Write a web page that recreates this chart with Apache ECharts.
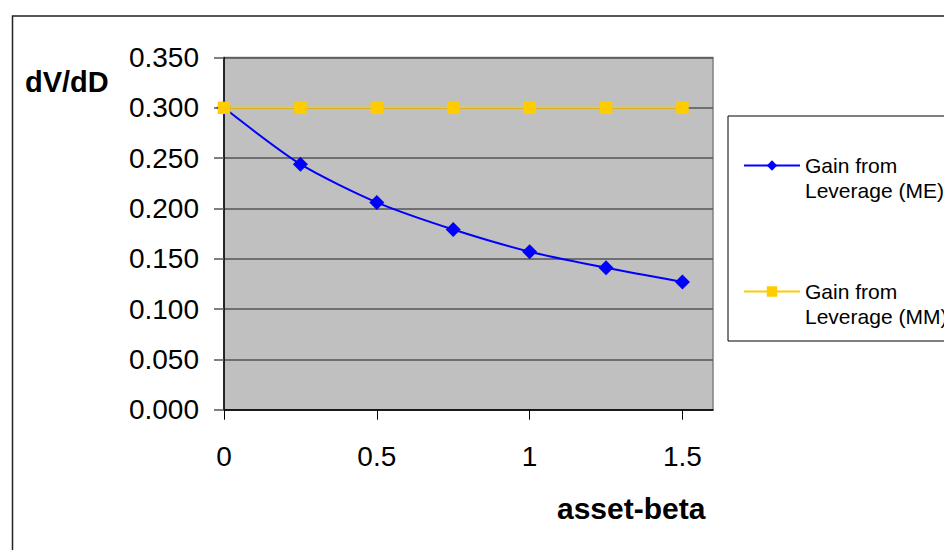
<!DOCTYPE html>
<html>
<head>
<meta charset="utf-8">
<script src="https://cdn.jsdelivr.net/npm/echarts@6/dist/echarts.min.js"></script>
<style>
html,body{margin:0;padding:0;background:#fff;}
#chart{width:944px;height:550px;}
</style>
</head>
<body>
<div id="chart"></div>
<script>
// Data
var assetBeta = [0, 0.25, 0.5, 0.75, 1, 1.25, 1.5];
var gainME = [0.300, 0.244, 0.206, 0.179, 0.157, 0.141, 0.127];
var gainMM = [0.300, 0.300, 0.300, 0.300, 0.300, 0.300, 0.300];
var seriesNames = ['Gain from\nLeverage (ME)', 'Gain from\nLeverage (MM)'];
var xTickValues = [0, 0.5, 1, 1.5];
var yAxisTitle = 'dV/dD';
var xAxisTitle = 'asset-beta';

var FONT = '"Liberation Sans", Arial, sans-serif';

function pairs(xs, ys) { return xs.map(function (x, i) { return [x, ys[i]]; }); }

var chart = echarts.init(document.getElementById('chart'), null, { renderer: 'svg' });
chart.setOption({
  backgroundColor: '#ffffff',
  animation: false,
  title: [
    { text: yAxisTitle, left: 25, top: 67, padding: 0,
      textStyle: { fontFamily: FONT, fontSize: 29, fontWeight: 'bold', color: '#000' } },
    { text: xAxisTitle, left: 557, top: 493, padding: 0,
      textStyle: { fontFamily: FONT, fontSize: 30, fontWeight: 'bold', color: '#000' } }
  ],
  graphic: [
    { type: 'rect', left: 10, top: 13.5, z: -10, silent: true,
      shape: { x: 0, y: 0, width: 1000, height: 600 },
      style: { fill: 'none', stroke: '#222', lineWidth: 1.5 } }
  ],
  grid: {
    left: 224, top: 57.5, right: 231, bottom: 140.3,
    show: true, backgroundColor: '#C0C0C0', borderColor: '#808080', borderWidth: 1.5
  },
  legend: {
    orient: 'vertical',
    left: 728, top: 116,
    padding: [12, 30, 12, 15],
    itemGap: 51,
    itemWidth: 56, itemHeight: 13,
    borderColor: '#000', borderWidth: 1,
    backgroundColor: '#fff',
    data: seriesNames,
    formatter: function (name) { return '\n' + name; },
    textStyle: { fontFamily: FONT, fontSize: 21, color: '#000', lineHeight: 25 }
  },
  xAxis: {
    type: 'value', min: 0, max: 1.6, interval: 0.5,
    axisLine: { show: true, onZero: false, lineStyle: { color: '#000', width: 1.5 } },
    axisTick: { show: true, length: 10, customValues: xTickValues, lineStyle: { color: '#000', width: 1 } },
    axisLabel: { customValues: xTickValues, margin: 33, fontFamily: FONT, fontSize: 28, color: '#000',
      formatter: function (v) { return String(v); } },
    splitLine: { show: false }
  },
  yAxis: {
    type: 'value', min: 0, max: 0.35, interval: 0.05,
    axisLine: { show: true, lineStyle: { color: '#000', width: 1.5 } },
    axisTick: { show: true, length: 10, lineStyle: { color: '#555', width: 1.5 } },
    axisLabel: { margin: 25, fontFamily: FONT, fontSize: 28, color: '#000',
      formatter: function (v) { return v.toFixed(3); } },
    splitLine: { show: true, lineStyle: { color: '#555', width: 1.5 } }
  },
  series: [
    {
      name: seriesNames[0], type: 'line', smooth: 0.25,
      data: pairs(assetBeta, gainME),
      symbol: 'diamond', symbolSize: 15,
      lineStyle: { color: '#0000FF', width: 2 },
      itemStyle: { color: '#0000FF' },
      z: 2
    },
    {
      name: seriesNames[1], type: 'line',
      data: pairs(assetBeta, gainMM),
      symbol: 'rect', symbolSize: 12.5,
      lineStyle: { color: '#FFCC00', width: 2 },
      itemStyle: { color: '#FFCC00' },
      z: 3
    }
  ]
});
</script>
</body>
</html>
